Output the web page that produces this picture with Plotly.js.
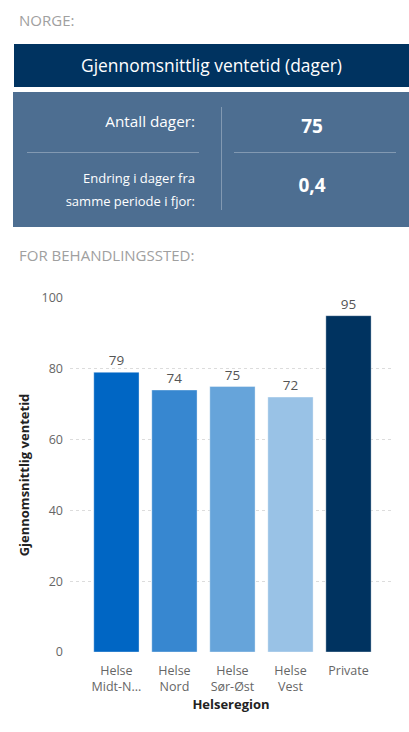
<!DOCTYPE html>
<html>
<head>
<meta charset="utf-8">
<script src="https://cdn.plot.ly/plotly-3.0.1.min.js"></script>
<style>
  body { margin: 0; width: 409px; height: 732px; background: #fff; position: relative; overflow: hidden;
         font-family: "Segoe UI", "Open Sans", "Noto Sans", sans-serif; }
  .lbl { position: absolute; left: 19px; font-size: 15px; color: #a0a0a0; }
  #head { position: absolute; left: 14px; top: 44px; width: 395px; height: 43px; background: #003360;
          color: #fff; font-size: 17.4px; line-height: 43px; text-align: center; }
  #kpi { position: absolute; left: 13px; top: 92px; width: 396px; height: 135px; background: #4d6e91; color: #fff; }
  #kpi .vl { position: absolute; left: 208px; top: 15px; width: 1px; height: 103px; background: rgba(255,255,255,0.3); }
  #kpi .hl { position: absolute; top: 60px; height: 1px; background: rgba(255,255,255,0.3); }
  #kpi .txt { position: absolute; right: 214px; text-align: right; white-space: nowrap; }
  #kpi .num { position: absolute; left: 221px; width: 156px; text-align: center; font-weight: bold; font-size: 19px; }
  #chart { position: absolute; left: 0; top: 265px; width: 409px; height: 467px; }
</style>
</head>
<body>
<div class="lbl" style="top:10px">NORGE:</div>
<div id="head"></div>
<div id="kpi">
  <div class="vl"></div>
  <div class="hl" style="left:14px;width:172px"></div>
  <div class="hl" style="left:221px;width:162px"></div>
  <div class="txt" id="k1lbl" style="top:19px;font-size:15.3px"></div>
  <div class="num" id="k1val" style="top:21px"></div>
  <div class="txt" id="k2lbl" style="top:75px;font-size:13px;line-height:23px"></div>
  <div class="num" id="k2val" style="top:80px"></div>
</div>
<div class="lbl" style="top:245px">FOR BEHANDLINGSSTED:</div>
<div id="chart"></div>
<script>
const headerTitle = "Gjennomsnittlig ventetid (dager)";
const kpiLabels = ["Antall dager:", "Endring i dager fra<br>samme periode i fjor:"];
const kpiValues = ["75", "0,4"];

const regions = ["Helse<br>Midt-N...", "Helse<br>Nord", "Helse<br>Sør-Øst", "Helse<br>Vest", "Private"];
const waitDays = [79, 74, 75, 72, 95];
const barColors = ["#0066c4", "#3787d0", "#66a4da", "#99c2e6", "#003360"];

document.getElementById("head").textContent = headerTitle;
document.getElementById("k1lbl").innerHTML = kpiLabels[0];
document.getElementById("k2lbl").innerHTML = kpiLabels[1];
document.getElementById("k1val").textContent = kpiValues[0];
document.getElementById("k2val").textContent = kpiValues[1];

const font = '"Segoe UI", "Open Sans", "Noto Sans", sans-serif';

Plotly.newPlot('chart', [{
  type: 'bar',
  x: regions,
  y: waitDays,
  text: waitDays.map(String),
  textposition: 'outside',
  cliponaxis: false,
  textfont: { color: '#555', size: 13.5, family: font },
  marker: { color: barColors, line: { color: 'rgba(255,255,255,0.35)', width: 1 } },
  hoverinfo: 'none'
}], {
  width: 409,
  height: 467,
  margin: { l: 70, r: 17, t: 33, b: 80 },
  paper_bgcolor: '#fff',
  plot_bgcolor: '#fff',
  bargap: 0.22,
  showlegend: false,
  font: { family: font, color: '#666', size: 12.5 },
  xaxis: {
    range: [-0.8, 4.75],
    showgrid: false,
    zeroline: false,
    ticks: '',
    ticklabelstandoff: 9,
    tickfont: { color: '#666', size: 12.5 },
    title: { text: 'Helseregion', font: { color: '#222', size: 13, weight: 'bold' }, standoff: 5 }
  },
  yaxis: {
    range: [0, 100],
    dtick: 20,
    showgrid: true,
    gridcolor: '#dcdcdc',
    griddash: 'dot',
    zeroline: false,
    ticks: '',
    ticklabelstandoff: 6,
    tickfont: { color: '#666', size: 12.5 },
    title: { text: 'Gjennomsnittlig ventetid', font: { color: '#222', size: 13, weight: 'bold' }, standoff: 8 }
  }
}, { displayModeBar: false, staticPlot: true });
</script>
</body>
</html>
